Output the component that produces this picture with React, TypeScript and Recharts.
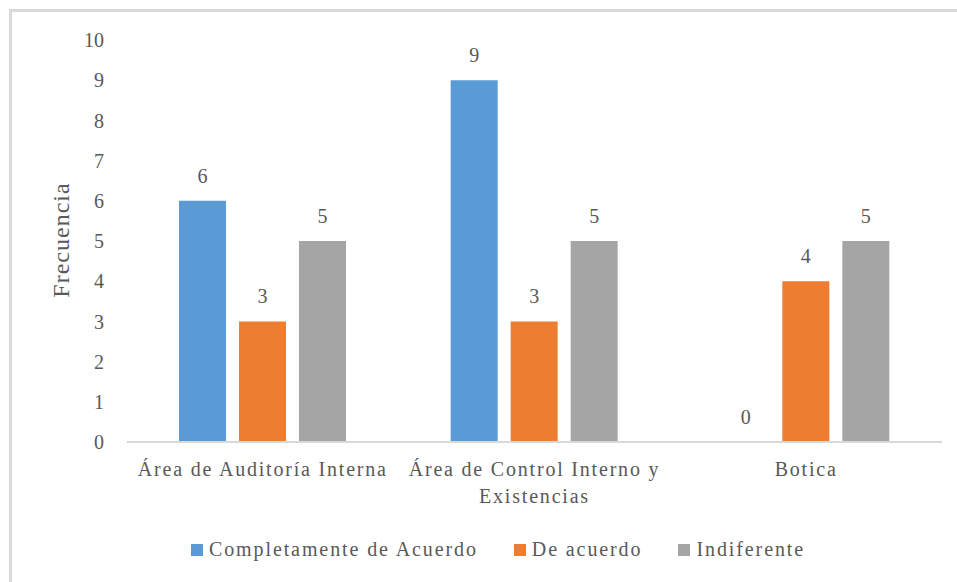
import React from 'react';
import { Bar, BarChart, LabelList, Legend, XAxis, YAxis } from 'recharts';

const categories = ['Área de Auditoría Interna', 'Área de Control Interno y\nExistencias', 'Botica'];
const completamente = [6, 9, 0];
const deAcuerdo = [3, 3, 4];
const indiferente = [5, 5, 5];
const yTicks = [0, 1, 2, 3, 4, 5, 6, 7, 8, 9, 10];

const seriesInfo = [
  { key: 'completamente', name: 'Completamente de Acuerdo', color: '#5B9BD5' },
  { key: 'deAcuerdo', name: 'De acuerdo', color: '#ED7D31' },
  { key: 'indiferente', name: 'Indiferente', color: '#A5A5A5' },
];

const data = categories.map((name, i) => ({
  name,
  completamente: completamente[i],
  deAcuerdo: deAcuerdo[i],
  indiferente: indiferente[i],
}));

const FONT = '"Liberation Serif", "Times New Roman", serif';
const TEXT = '#595959';

const CategoryTick = (props: any) => {
  const { x, y, payload } = props;
  const lines = String(payload.value).split('\n');
  return (
    <text x={x} y={y} textAnchor="middle" fill={TEXT} fontFamily={FONT} fontSize={20} letterSpacing={1.8}>
      {lines.map((l, i) => (
        <tspan key={i} x={x} dy={i === 0 ? 26 : 27}>{l}</tspan>
      ))}
    </text>
  );
};

const LegendContent = () => (
  <div style={{ display: 'flex', justifyContent: 'center', paddingLeft: 54, fontFamily: FONT, fontSize: 20, color: TEXT, letterSpacing: 1.9 }}>
    {seriesInfo.map((s) => (
      <div key={s.key} style={{ display: 'flex', alignItems: 'center', margin: '0 18px' }}>
        <span style={{ width: 12, height: 12, background: s.color, display: 'inline-block', marginRight: 6 }} />
        <span>{s.name}</span>
      </div>
    ))}
  </div>
);

const YLabel = () => (
  <text x={61} y={240} transform="rotate(-90 61 240)" textAnchor="middle" dominantBaseline="central"
    fill={TEXT} fontFamily={FONT} fontSize={24} letterSpacing={1}>
    Frecuencia
  </text>
);

export default function App() {
  return (
    <div style={{ position: 'absolute', left: 0, top: 0, width: 957, height: 582, background: '#fff' }}>
      <div style={{ position: 'absolute', left: 9, top: 9, right: -10, bottom: -10, borderTop: '3px solid #d9d9d9', borderLeft: '3px solid #d9d9d9' }} />
      <BarChart
        width={957}
        height={582}
        data={data}
        margin={{ top: 40, right: 15, left: 0, bottom: 56 }}
        barSize={47}
        barGap={13}
        style={{ position: 'absolute', left: 0, top: 0 }}
      >
        <XAxis
          dataKey="name"
          axisLine={{ stroke: '#d9d9d9', strokeWidth: 2 }}
          tickLine={false}
          height={60}
          interval={0}
          tick={<CategoryTick />}
        />
        <YAxis
          width={127}
          domain={[0, 10]}
          ticks={yTicks}
          interval={0}
          axisLine={false}
          tickLine={false}
          tickMargin={17}
          tick={{ fill: TEXT, fontFamily: FONT, fontSize: 20 }}
          label={{ content: () => <YLabel /> }}
        />
        <Legend verticalAlign="bottom" height={24} wrapperStyle={{ top: 538, bottom: 'auto' }} content={() => <LegendContent />} />
        {seriesInfo.map((s) => (
          <Bar key={s.key} dataKey={s.key} name={s.name} fill={s.color} minPointSize={0.01} isAnimationActive={false}>
            <LabelList dataKey={s.key} position="top" offset={18} fill={TEXT} fontFamily={FONT} fontSize={20} />
          </Bar>
        ))}
      </BarChart>
    </div>
  );
}
